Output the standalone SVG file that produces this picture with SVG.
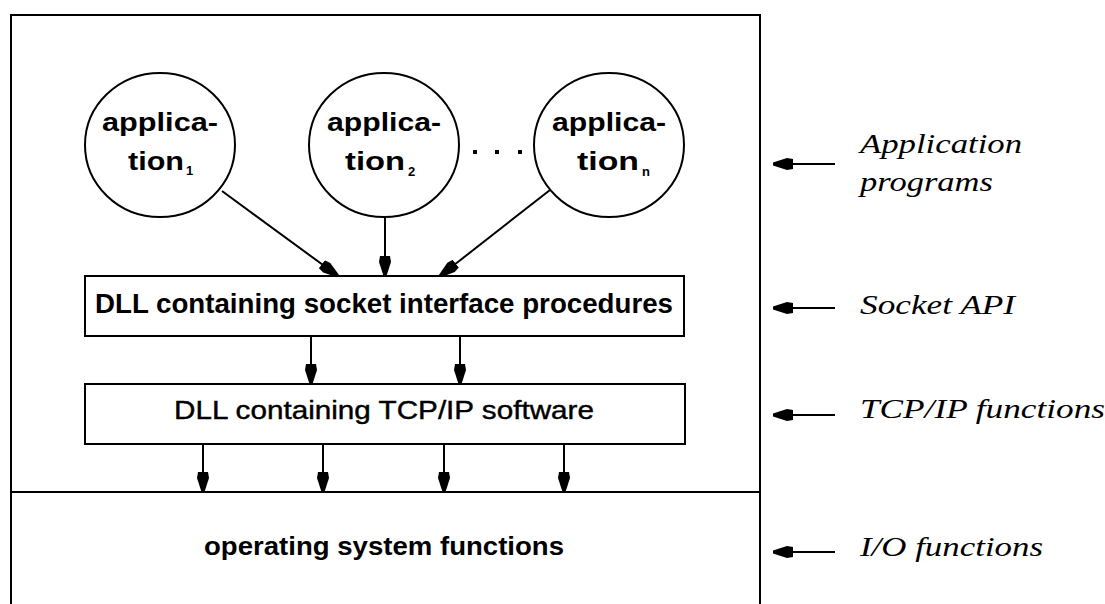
<svg xmlns="http://www.w3.org/2000/svg" width="1105" height="604" viewBox="0 0 1105 604">
<style>
.ln{stroke:#000;stroke-width:2;fill:none}
.bx{stroke:#000;stroke-width:2;fill:#fff}
.b{font-family:"Liberation Sans",Arial,sans-serif;font-weight:bold;fill:#000}
.r{font-family:"Liberation Sans",Arial,sans-serif;fill:#000;stroke:#000;stroke-width:0.4}
.i{font-family:"Liberation Serif","Times New Roman",serif;font-style:italic;fill:#000;font-size:27px}
.sub{font-family:"Liberation Sans",Arial,sans-serif;font-weight:bold;font-size:13px;fill:#000}
</style>
<defs>
<marker id="ah" markerUnits="userSpaceOnUse" markerWidth="22" markerHeight="16" refX="20" refY="7" orient="auto">
<path d="M0,2 L6,1 L20,5.5 L20,8.5 L6,13 L0,12 z" fill="#000"/>
</marker>
</defs>
<rect width="1105" height="604" fill="#fff"/>

<g id="frame">
<path class="ln" d="M11,604 V15 H760 V604"/>
<line class="ln" x1="11" y1="492" x2="760" y2="492"/>
</g>

<g id="app1">
<ellipse class="bx" cx="160" cy="145" rx="75" ry="72"/>
<text class="b" x="160" y="131" font-size="26" text-anchor="middle" textLength="116" lengthAdjust="spacingAndGlyphs">applica-</text>
<text class="b" x="128" y="170" font-size="26" textLength="56" lengthAdjust="spacingAndGlyphs">tion</text>
<text class="sub" x="186" y="175">1</text>
</g>

<g id="app2">
<ellipse class="bx" cx="384" cy="145" rx="75" ry="72"/>
<text class="b" x="384" y="131" font-size="26" text-anchor="middle" textLength="114" lengthAdjust="spacingAndGlyphs">applica-</text>
<text class="b" x="345" y="170" font-size="26" textLength="60" lengthAdjust="spacingAndGlyphs">tion</text>
<text class="sub" x="408" y="176">2</text>
</g>

<g id="dots">
<rect x="473" y="150" width="4" height="4" fill="#000"/>
<rect x="495" y="150" width="4" height="4" fill="#000"/>
<rect x="518" y="150" width="4" height="4" fill="#000"/>
</g>

<g id="appn">
<ellipse class="bx" cx="609" cy="145" rx="75" ry="72"/>
<text class="b" x="609" y="131" font-size="26" text-anchor="middle" textLength="114" lengthAdjust="spacingAndGlyphs">applica-</text>
<text class="b" x="577" y="170" font-size="26" textLength="62" lengthAdjust="spacingAndGlyphs">tion</text>
<text class="sub" x="642" y="176">n</text>
</g>

<g id="socket">
<rect class="bx" x="85" y="276" width="599" height="60"/>
<text class="b" x="95" y="313" font-size="27" textLength="578" lengthAdjust="spacingAndGlyphs">DLL containing socket interface procedures</text>
</g>

<g id="tcpip">
<rect class="bx" x="85" y="384" width="600" height="60"/>
<text class="r" x="174" y="419" font-size="25" textLength="420" lengthAdjust="spacingAndGlyphs">DLL containing TCP/IP software</text>
</g>

<g id="os">
<text class="b" x="204" y="555" font-size="26" textLength="360" lengthAdjust="spacingAndGlyphs">operating system functions</text>
</g>

<g id="connectors">
<line class="ln" x1="222" y1="191" x2="338" y2="276" marker-end="url(#ah)"/>
<line class="ln" x1="385" y1="217" x2="385" y2="276" marker-end="url(#ah)"/>
<line class="ln" x1="550" y1="190" x2="440" y2="276" marker-end="url(#ah)"/>
<line class="ln" x1="311" y1="336" x2="311" y2="384" marker-end="url(#ah)"/>
<line class="ln" x1="460" y1="336" x2="460" y2="384" marker-end="url(#ah)"/>
<line class="ln" x1="203" y1="444" x2="203" y2="492" marker-end="url(#ah)"/>
<line class="ln" x1="323" y1="444" x2="323" y2="492" marker-end="url(#ah)"/>
<line class="ln" x1="444" y1="444" x2="444" y2="492" marker-end="url(#ah)"/>
<line class="ln" x1="564" y1="444" x2="564" y2="492" marker-end="url(#ah)"/>
<line class="ln" x1="835" y1="164" x2="773" y2="164" marker-end="url(#ah)"/>
<line class="ln" x1="835" y1="308" x2="773" y2="308" marker-end="url(#ah)"/>
<line class="ln" x1="835" y1="415" x2="773" y2="415" marker-end="url(#ah)"/>
<line class="ln" x1="835" y1="552" x2="773" y2="552" marker-end="url(#ah)"/>
</g>

<g id="labels">
<text class="i" x="860" y="153" textLength="162" lengthAdjust="spacingAndGlyphs">Application</text>
<text class="i" x="860" y="191" textLength="133" lengthAdjust="spacingAndGlyphs">programs</text>
<text class="i" x="860" y="314" textLength="155" lengthAdjust="spacingAndGlyphs">Socket API</text>
<text class="i" x="860" y="418" textLength="245" lengthAdjust="spacingAndGlyphs">TCP/IP functions</text>
<text class="i" x="860" y="556" textLength="183" lengthAdjust="spacingAndGlyphs">I/O functions</text>
</g>
</svg>
